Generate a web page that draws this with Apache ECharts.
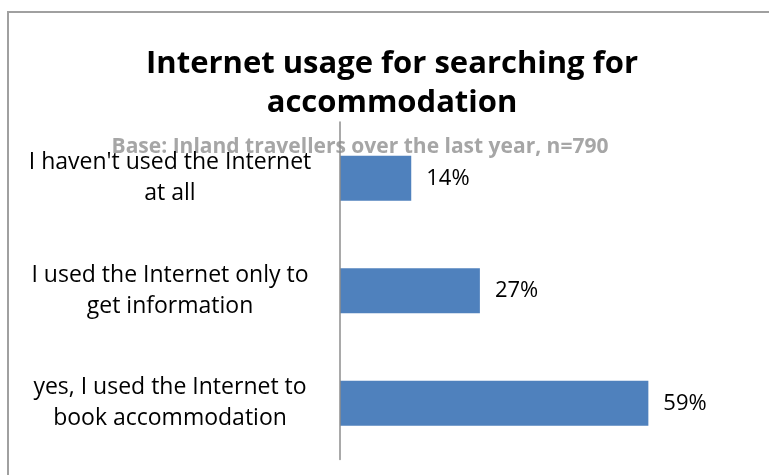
<!DOCTYPE html>
<html>
<head>
<meta charset="utf-8">
<script src="https://cdn.jsdelivr.net/npm/echarts@6/dist/echarts.min.js"></script>
<style>html,body{margin:0;padding:0;background:#fff}#c{width:769px;height:475px}</style>
</head>
<body>
<div id="c"></div>
<script>
const categories = ["I haven't used the Internet\nat all", "I used the Internet only to\nget information", "yes, I used the Internet to\nbook accommodation"];
const values = [13.7, 26.9, 59.3];
const titleText = "Internet usage for searching for\naccommodation";
const subtitleText = "Base: Inland travellers over the last year, n=790";

const FONT = "'Open Sans', sans-serif";
const chart = echarts.init(document.getElementById('c'), null, {renderer: 'canvas'});
chart.setOption({
  animation: false,
  backgroundColor: '#fff',
  graphic: [{
    type: 'rect', z: -10, silent: true,
    shape: {x: 8, y: 12, width: 900, height: 600},
    style: {fill: 'none', stroke: '#A0A0A0', lineWidth: 2}
  }],
  title: [{
    text: titleText,
    left: 387, top: 40, textAlign: 'center',
    textStyle: {fontFamily: FONT, fontWeight: 'bold', fontSize: 31, color: '#000', lineHeight: 39}
  }, {
    text: subtitleText,
    left: 355, top: 129, textAlign: 'center', z: 0,
    textStyle: {fontFamily: FONT, fontWeight: 'bold', fontSize: 21, color: '#A6A6A6', lineHeight: 26}
  }],
  grid: {left: 340, top: 122, right: 65, bottom: 15.5, containLabel: false},
  xAxis: {type: 'value', min: 0, max: 70, show: false},
  yAxis: {
    type: 'category', data: categories, inverse: true, z: 5,
    axisLine: {show: true, lineStyle: {color: '#8C8C8C', width: 1.5}},
    axisTick: {show: false},
    axisLabel: {
      margin: 170, align: 'center', color: '#000',
      fontFamily: FONT, fontSize: 23, lineHeight: 31
    }
  },
  series: [{
    type: 'bar', data: values, barCategoryGap: '60%',
    itemStyle: {color: '#4F81BD'},
    label: {
      show: true, position: 'right', distance: 15, color: '#000',
      fontFamily: FONT, fontSize: 22,
      formatter: p => Math.round(p.value) + '%'
    }
  }]
});
</script>
</body>
</html>
